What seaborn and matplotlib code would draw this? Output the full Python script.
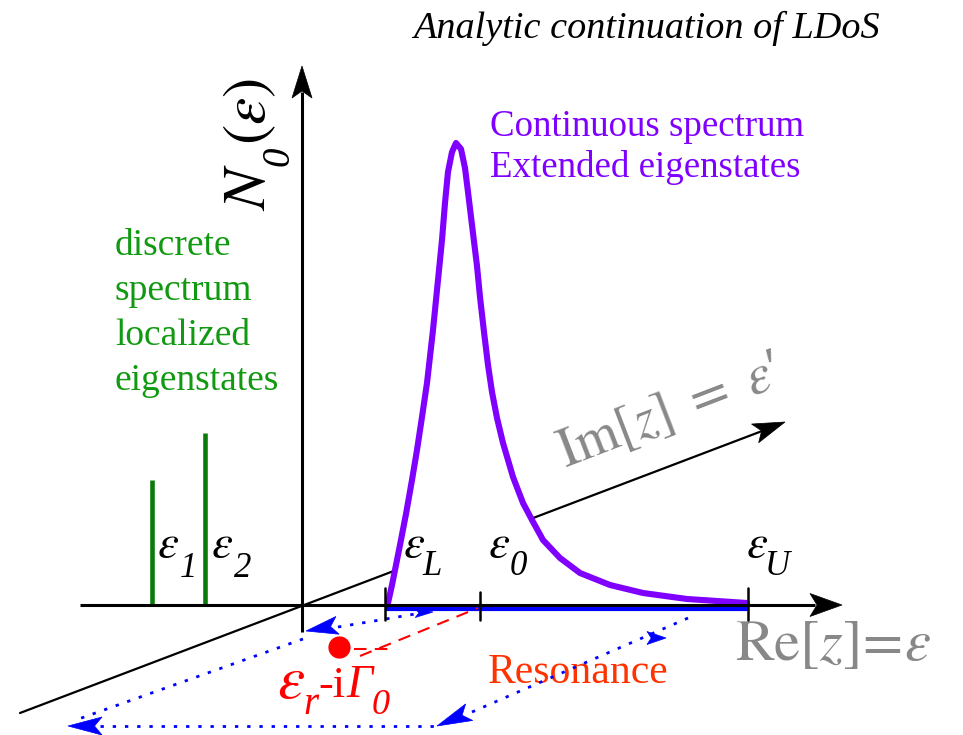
import numpy as np
import matplotlib
matplotlib.use("Agg")
import matplotlib.pyplot as plt
from matplotlib.patches import Polygon
import seaborn as sns

# ---------------- data (pixel-like units) -------------
curve_x = [388, 392, 395, 400, 406, 412, 417, 422, 427, 433, 438, 442, 445, 448,
           452, 456, 461, 465, 468, 472, 477, 480, 484, 488, 492, 497, 503, 513,
           523, 532, 543, 560, 580, 610, 643, 687, 747]
curve_y = [603, 585, 570, 545, 514, 480, 450, 417, 383, 330, 280, 240, 203, 172,
           152, 143, 149, 168, 192, 225, 266, 297, 332, 365, 392, 418, 443, 477,
           503, 520, 540, 558, 573, 585, 593, 599, 603]
spike_x = [152, 205]
spike_top = [480, 433]
tick_x = [385, 480, 748]
tick_subs = ["L", "0", "U"]
spike_subs = ["1", "2"]
band = [385, 748]
resonance_pt = (339, 647)

# ---------------- figure ------------------------------------------------------
sns.set_theme(style="white")
plt.rcParams["font.family"] = ["Liberation Serif", "DejaVu Serif"]
plt.rcParams["mathtext.fontset"] = "stix"

fig = plt.figure(figsize=(9.63, 7.35), dpi=100)
ax = fig.add_axes([0, 0, 1, 1])
ax.set_xlim(0, 963)
ax.set_ylim(735, 0)
ax.axis("off")


def head(tip, frm, length, halfw, color, notch=0.22, z=6):
    tip = np.array(tip, float)
    d = tip - np.array(frm, float)
    d /= np.hypot(*d)
    n = np.array([-d[1], d[0]])
    base = tip - d * length
    pts = [tip, base + n * halfw, tip - d * length * (1 - notch), base - n * halfw]
    ax.add_patch(Polygon(pts, closed=True, facecolor=color, edgecolor=color,
                         lw=0.5, zorder=z))


# axes lines
ax.plot([80, 815], [605, 605], color="black", lw=2.2, zorder=5, solid_capstyle="butt")
head((842, 605), (800, 605), 32, 11.5, "black")
ax.plot([302, 302], [632, 92], color="black", lw=2.2, zorder=5, solid_capstyle="butt")
head((302, 66), (302, 120), 32, 10, "black")
obl = np.array([[20, 713], [770, 428]])
ax.plot(obl[:, 0], obl[:, 1], color="black", lw=1.6, zorder=2)
head((785, 422), (20, 713), 32, 10, "black")

# blue band on axis
ax.plot(band, [608.5, 608.5], color="#0000ff", lw=3.0, zorder=4.5, solid_capstyle="butt")

# ticks
for tx, ty0 in zip(tick_x, [588, 592, 588]):
    ax.plot([tx, tx], [ty0, 620], color="black", lw=1.8, zorder=6)

# continuous spectrum curve (white under it hides oblique axis)
ax.fill_between(curve_x, curve_y, 605, color="white", zorder=3, lw=0)
sns.lineplot(x=curve_x, y=curve_y, ax=ax, sort=False, color="#8000ff", lw=4.4,
             zorder=4, estimator=None)
ax.lines[-1].set_solid_joinstyle("round")

# discrete spikes
ax.vlines(spike_x, spike_top, 605, color="#0a7a0a", lw=3.3, zorder=4)

# blue dotted loop with arrowheads
dot = dict(color="#0000ff", lw=2.0, linestyle=(0, (1.2, 3.2)), zorder=5)
ax.plot([338, 380, 415], [627, 620, 614], **dot)
head((433, 612), (415, 613), 18, 4.5, "#0000ff")
head((306, 631), (345, 624), 32, 9, "#0000ff")
ax.plot([303, 73], [639, 721], **dot)
head((68, 726), (110, 726), 34, 9, "#0000ff")
ax.plot([100, 437], [726, 726], **dot)
head((437, 726), (472, 711), 35, 9, "#0000ff")
ax.plot([472, 695], [712, 615], **dot)
head((666, 638), (646, 638), 19, 6.5, "#0000ff")

# resonance point and dashed guide
ax.plot([354, 392], [649, 649], color="#ff0000", lw=1.5, linestyle=(0, (6, 4)), zorder=5)
ax.plot([360, 478], [656, 608], color="#ff0000", lw=1.5, linestyle=(0, (6, 4)), zorder=5)
ax.plot([resonance_pt[0]], [resonance_pt[1]], "o", color="#ff0000", ms=15, zorder=6)

# ---------------- texts --------------------------------------------------------
ax.text(880, 38, "Analytic continuation of LDoS", ha="right", va="baseline",
        fontsize=27.5, style="italic", color="black")
ax.text(490, 136, "Continuous spectrum", ha="left", va="baseline", fontsize=26.6,
        color="#8000ff")
ax.text(490, 177, "Extended eigenstates", ha="left", va="baseline", fontsize=26.6,
        color="#8000ff")
for i, s in enumerate(["discrete", "spectrum", "localized", "eigenstates"]):
    ax.text(115, 255 + 45 * i, s, ha="left", va="baseline", fontsize=27,
            color="#119911")
ax.text(488, 683, "Resonance", ha="left", va="baseline", fontsize=30, color="#ff3300")

ax.text(735, 660, r"$\mathrm{Re}[z]\!=\!\varepsilon$", ha="left", va="baseline",
        fontsize=42, color="#888888")
ax.text(565, 468, r"$\mathrm{Im}[z]\ =\ \varepsilon$" + "\u2032", ha="left",
        va="baseline", fontsize=40, color="#888888", rotation=21,
        rotation_mode="anchor")

# N_0(eps) vertical label built from pieces
rot = dict(rotation=90, rotation_mode="anchor", ha="left", va="baseline", color="black")
ax.text(265, 211, r"$N$", fontsize=44, **rot)
ax.text(288, 166, "0", fontsize=28, style="italic", **rot)
ax.text(265, 145, r"$(\varepsilon)$", fontsize=44, **rot)

# epsilon labels with large italic subscripts
for x0, sub in zip([157, 211], spike_subs):
    ax.text(x0, 557, r"$\varepsilon$", ha="left", va="baseline", fontsize=34, color="black")
    ax.text(x0 + 23, 577, sub, ha="left", va="baseline", fontsize=25,
            style="italic", color="black")
for x0, dx, sub in zip([403, 488, 746], [19, 22, 19], tick_subs):
    ax.text(x0, 557, r"$\varepsilon$", ha="left", va="baseline", fontsize=34, color="black")
    ax.text(x0 + dx, 575, sub, ha="left", va="baseline", fontsize=25,
            style="italic", color="black")

# red resonance label
red = dict(ha="left", va="baseline", color="#ff0000")
ax.text(277, 698, r"$\varepsilon$", fontsize=44, **red)
ax.text(303, 714, "r", fontsize=28, style="italic", **red)
ax.text(318, 697, "-i", fontsize=32, **red)
ax.text(346, 697, "\u0393", fontsize=33, style="italic", **red)
ax.text(372, 714, "0", fontsize=26, style="italic", **red)

fig.savefig("out.png", dpi=100)
